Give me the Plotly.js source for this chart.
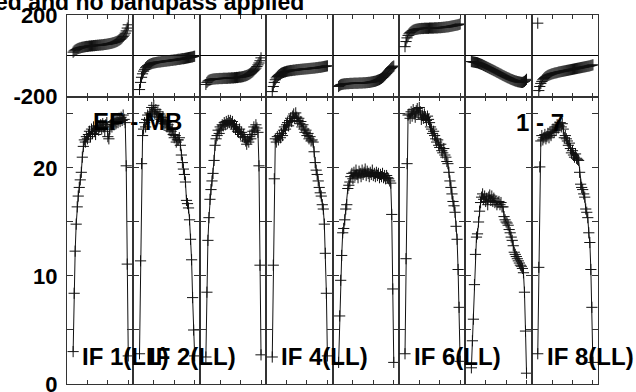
<!DOCTYPE html>
<html><head><meta charset="utf-8">
<script src="https://cdn.plot.ly/plotly-3.0.1.min.js"></script>
<style>html,body{margin:0;padding:0;background:#fff}#chart{width:636px;height:392px}</style>
</head><body><div id="chart"></div>
<script>
const channels = [6,7,8,9,10,11,12,13,14,15,16,17,18,19,20,21,22,23,24,25,26,27,28,29,30,31,32,33,34,35,36,37,38,39,40,41,42,43,44,45,46,47,48,49,50,51,52,53,54,55,56,57,58,59,60];

const ampIF1 = [3.0,8.4,12.3,14.8,16.4,17.4,18.2,18.9,19.6,21.0, 22.0,22.6,22.4,22.9,22.7,23.1,23.4,22.9,23.6,23.2, 23.8,23.4,23.1,23.7,23.9,23.5,23.8,24.0,23.6,24.1, 23.8,23.4,24.0,24.2,22.9,22.7,23.6,24.0,23.8,24.3, 24.0,24.4,24.1,24.5,24.2,24.6,24.3,24.7,24.4,24.9, 24.5,24.2,20.2,11.1,2.6];
const ampIF2 = [2.8,11.4,20.4,23.0,23.6,24.2,23.8,24.5,24.9,24.4, 25.1,25.0,25.6,25.2,25.8,25.0,25.4,24.8,25.2,24.7, 25.0,24.5,24.3,24.7,24.1,24.4,24.2,23.8,24.0,23.5, 23.7,23.4,23.6,23.1,22.8,23.0,22.4,22.6,22.6,22.8, 22.1,21.2,20.5,19.9,19.4,18.7,17.0,16.7,16.3,15.2, 13.4,11.5,8.0,5.0,2.6];
const ampIF3 = [2.5,8.5,13.3,15.4,17.1,18.0,18.8,19.5,20.7,22.1, 22.7,23.0,23.5,23.2,23.8,23.6,24.0,23.9,24.2,24.0, 24.3,24.1,24.4,24.2,24.4,24.1,24.3,23.8,24.0,23.6, 23.8,23.4,23.3,23.6,23.1,23.3,22.9,23.1,22.8,22.5, 22.2,22.6,22.4,22.9,22.7,23.1,23.4,23.8,23.5,24.0, 23.7,23.3,20.2,11.0,2.7];
const ampIF4 = [2.5,11.0,19.0,22.7,22.4,22.9,22.6,23.0,22.8,23.2, 23.0,23.5,23.8,23.6,24.0,24.2,23.9,24.4,24.6,24.3, 24.8,25.0,24.6,25.1,24.7,24.4,24.6,24.1,24.3,23.8, 24.0,23.6,23.3,23.5,23.0,23.2,22.7,22.9,22.5,22.6, 22.4,21.5,20.5,19.8,19.4,18.8,18.2,17.7,17.4,16.6, 16.2,14.8,12.1,8.4,2.6];
const ampIF5 = [2.0,6.3,9.6,11.9,14.0,14.4,15.2,16.2,16.6,18.1, 18.4,18.7,19.2,19.5,19.0,19.6,19.3,19.8,19.4,19.1, 19.7,19.5,19.2,19.8,19.4,19.6,19.9,19.3,19.7,19.5, 19.2,19.6,19.4,19.8,19.3,19.5,19.2,19.6,19.3,19.5, 19.1,19.4,19.2,19.5,19.1,19.3,19.0,19.3,19.1,19.0, 18.8,18.6,15.7,8.8,2.0];
const ampIF6 = [2.8,11.6,20.4,24.9,25.0,24.6,25.2,24.8,25.4,25.0, 24.7,25.3,25.5,25.1,25.6,25.2,24.5,24.9,24.6,25.0, 24.7,24.4,24.8,24.5,24.2,23.8,23.6,23.2,23.4,23.0, 22.7,22.4,22.6,22.1,21.9,22.2,21.6,21.4,21.8,21.2, 21.0,20.6,20.4,19.6,18.8,18.2,17.6,16.9,16.5,15.9, 14.6,13.4,10.6,7.1,2.1];
const ampIF7 = [1.5,4.0,6.0,9.2,12.0,13.6,13.9,15.0,16.0,16.8, 17.3,17.6,17.1,17.4,16.9,17.2,16.6,17.3,17.5,17.0, 17.4,16.9,17.2,16.8,16.9,16.6,16.8,16.9,16.6,16.8, 16.4,16.4,15.5,15.2,15.0,14.9,14.7,14.3,14.0,13.6, 13.3,12.8,12.2,12.0,11.8,11.6,11.4,11.2,11.0,10.9, 10.7,10.3,8.5,4.9,1.0];
const ampIF8 = [2.8,10.8,20.1,22.5,23.0,22.6,22.8,23.1,22.7,22.9, 23.2,22.8,23.3,23.0,23.4,23.6,23.3,23.8,23.5,24.0, 23.7,23.9,24.2,23.8,24.1,23.6,22.8,23.0,22.7,22.5, 22.1,22.3,21.8,21.4,21.6,21.2,21.0,21.3,20.9,20.8, 20.7,19.6,18.5,18.2,18.0,17.6,17.3,16.2,15.9,15.4, 14.0,13.1,10.6,7.1,2.0];

const phaseIF1 = [18,24,28,31,34,36,38,39,41,42, 43,44,45,46,46,47,48,48,49,49, 50,50,51,51,52,52,53,53,54,54, 55,56,56,57,58,59,60,61,62,64, 65,67,69,71,74,77,80,84,89,95, 102,111,122,136,152];
const phaseIF2 = [-165,-130,-105,-88,-75,-66,-58,-53,-48,-45, -42,-40,-38,-36,-35,-34,-33,-32,-31,-30, -30,-29,-28,-28,-27,-26,-26,-25,-24,-24, -23,-22,-22,-21,-20,-20,-19,-18,-17,-17, -16,-15,-14,-14,-13,-12,-11,-10,-9,-8, -7,-6,-5,-3,-2];
const phaseIF3 = [-140,-130,-124,-120,-118,-116,-115,-114,-113,-113, -112,-112,-112,-111,-111,-111,-111,-110,-110,-110, -110,-110,-109,-109,-109,-108,-108,-108,-107,-107, -106,-106,-105,-104,-104,-103,-102,-101,-99,-98, -96,-94,-91,-88,-85,-81,-77,-72,-66,-60, -52,-44,-35,-24,-10];
const phaseIF4 = [-175,-150,-130,-117,-108,-101,-96,-92,-88,-85, -83,-81,-79,-78,-76,-75,-74,-73,-72,-72, -71,-70,-70,-69,-68,-68,-67,-67,-66,-66, -65,-65,-64,-64,-63,-63,-62,-62,-61,-61, -60,-60,-59,-58,-58,-57,-56,-56,-55,-54, -53,-52,-51,-50,-49];
const phaseIF5 = [-150,-145,-142,-140,-139,-138,-137,-137,-136,-136, -136,-135,-135,-135,-135,-134,-134,-134,-134,-134, -133,-133,-133,-133,-132,-132,-132,-131,-131,-130, -130,-129,-128,-127,-126,-125,-124,-122,-120,-118, -116,-113,-110,-106,-102,-97,-92,-86,-80,-74, -68,-62,-57,-53,-50];
const phaseIF6 = [45,70,88,100,108,114,118,122,125,127, 129,130,131,132,133,133,134,134,134,135, 135,135,135,135,136,136,136,136,136,137, 137,137,137,138,138,138,139,139,140,140, 141,142,142,143,144,145,146,147,148,149, 150,151,152,154,156];
const phaseIF7 = [-28,-29,-30,-31,-32,-33,-34,-36,-38,-40, -42,-44,-47,-49,-52,-54,-57,-59,-62,-64, -67,-69,-72,-74,-77,-80,-82,-85,-88,-90, -93,-96,-98,-101,-103,-106,-108,-110,-113,-115, -117,-119,-121,-123,-124,-126,-127,-128,-129,-130, -130,-128,-125,-120,-115];
const phaseIF8 = [160,-170,-150,-135,-125,-117,-111,-106,-102,-99, -96,-94,-92,-90,-88,-87,-85,-84,-83,-82, -80,-79,-78,-77,-76,-75,-74,-73,-72,-71, -70,-69,-68,-67,-66,-65,-64,-63,-62,-61, -60,-59,-58,-57,-56,-55,-54,-53,-52,-51, -50,-49,-47,-46,-44];

const ifNames = ['IF 1(LL)','IF 2(LL)','IF 3(LL)','IF 4(LL)','IF 5(LL)','IF 6(LL)','IF 7(LL)','IF 8(LL)'];
const ifNameShown = [true,true,false,true,false,true,false,true];
const ampTickVals = [0,5,10,15,20,25];
const ampTickText = ['0','','10','','20',''];
const phaseTickVals = [-200,200];
const phaseTickText = ['-200','200'];
const chanTickVals = [0,20,40,60];
const antennaLabel = 'EF - MB';
const baselineLabel = '1 - 7';
const titleText = 'ed and no bandpass applied';

const ampData = [ampIF1,ampIF2,ampIF3,ampIF4,ampIF5,ampIF6,ampIF7,ampIF8];
const phaseData = [phaseIF1,phaseIF2,phaseIF3,phaseIF4,phaseIF5,phaseIF6,phaseIF7,phaseIF8];

const FONT = 'Liberation Sans, Arial, Helvetica, sans-serif';
const INK = '#111';
const FRAME = '#333';
const SPLIT = 0.7786;
const NP = 8;

const layout = {
  width: 636, height: 392,
  margin: {l: 67, r: 38, t: 15, b: 8},
  showlegend: false,
  paper_bgcolor: '#fff', plot_bgcolor: '#fff',
  hovermode: false,
  annotations: []
};
const traces = [];

function axName(kind, i) { return kind + 'axis' + (i === 1 ? '' : i); }
function axRef(kind, i) { return kind + (i === 1 ? '' : i); }

function withWrapBreaks(xs, ys) {
  const ox = [], oy = [];
  for (let i = 0; i < xs.length; i++) {
    if (i > 0 && Math.abs(ys[i] - ys[i-1]) > 180) { ox.push(xs[i]); oy.push(null); }
    ox.push(xs[i]); oy.push(ys[i]);
  }
  return {x: ox, y: oy};
}

const markerStyle = {symbol: 'cross-thin', size: 8, color: INK, line: {color: INK, width: 1}};

for (let k = 0; k < NP; k++) {
  const dom = [k / NP, (k + 1) / NP];
  const iA = 2 * k + 1, iP = 2 * k + 2;
  const baseX = {
    domain: dom, range: [0, 65], tickvals: chanTickVals, ticks: 'inside', ticklen: 4,
    tickcolor: FRAME, tickwidth: 1, mirror: 'ticks', showline: true, linecolor: FRAME, linewidth: 1,
    showticklabels: false, showgrid: false, zeroline: false, fixedrange: true
  };
  layout[axName('x', iA)] = Object.assign({}, baseX, {anchor: axRef('y', iA)});
  layout[axName('x', iP)] = Object.assign({}, baseX, {anchor: axRef('y', iP)});
  const baseY = {
    ticks: 'inside', ticklen: 6, tickcolor: FRAME, tickwidth: 1, mirror: 'ticks',
    showline: true, linecolor: FRAME, linewidth: 1, showgrid: false, fixedrange: true,
    showticklabels: k === 0, ticklabeloverflow: 'allow', ticklabelstandoff: 4,
    tickfont: {family: FONT, size: 22, color: '#000', weight: 'bold'}
  };
  layout[axName('y', iA)] = Object.assign({}, baseY, {
    domain: [0, SPLIT], range: [0, 26.6], tickvals: ampTickVals, ticktext: ampTickText,
    zeroline: false, anchor: axRef('x', iA)
  });
  layout[axName('y', iP)] = Object.assign({}, baseY, {
    domain: [SPLIT, 1], range: [-200, 200], tickvals: phaseTickVals, ticktext: phaseTickText,
    zeroline: true, zerolinecolor: '#000', zerolinewidth: 1, anchor: axRef('x', iP)
  });

  traces.push({
    type: 'scatter', mode: 'lines+markers', x: channels, y: ampData[k],
    xaxis: axRef('x', iA), yaxis: axRef('y', iA),
    line: {color: INK, width: 1}, marker: markerStyle, name: ifNames[k]
  });
  const ph = withWrapBreaks(channels, phaseData[k]);
  traces.push({
    type: 'scatter', mode: 'lines+markers', x: ph.x, y: ph.y, connectgaps: false,
    xaxis: axRef('x', iP), yaxis: axRef('y', iP),
    line: {color: INK, width: 1}, marker: markerStyle, name: ifNames[k] + ' phase'
  });

  if (ifNameShown[k]) {
    layout.annotations.push({
      xref: 'paper', yref: 'paper', x: (k + 0.2) / NP, y: 0.0732,
      xanchor: 'left', yanchor: 'middle', showarrow: false, text: ifNames[k],
      font: {family: FONT, size: 24, color: '#000', weight: 'bold'}
    });
  }
}

layout.annotations.push({
  xref: 'paper', yref: 'paper', x: 0.045, y: 0.7127, xanchor: 'left', yanchor: 'middle',
  showarrow: false, text: antennaLabel, font: {family: FONT, size: 24, color: '#000', weight: 'bold'}
});
layout.annotations.push({
  xref: 'paper', yref: 'paper', x: 0.842, y: 0.71, xanchor: 'left', yanchor: 'middle',
  showarrow: false, text: baselineLabel, font: {family: FONT, size: 24, color: '#000', weight: 'bold'}
});
layout.annotations.push({
  xref: 'paper', yref: 'paper', x: 0.450, y: 1.034, xanchor: 'right', yanchor: 'middle',
  showarrow: false, text: titleText, font: {family: FONT, size: 23, color: '#000', weight: 'bold'}
});

Plotly.newPlot('chart', traces, layout, {staticPlot: true, displayModeBar: false});
</script>
</body></html>
